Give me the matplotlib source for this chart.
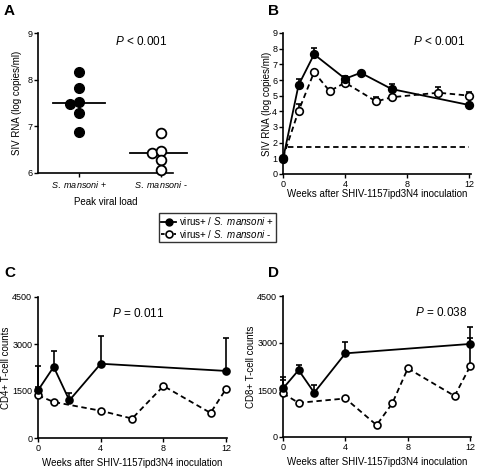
import matplotlib
matplotlib.use("Agg")
import matplotlib.pyplot as plt
from matplotlib.lines import Line2D
import numpy as np

plt.rcParams['font.family'] = ['Liberation Sans', 'DejaVu Sans']
plt.rcParams['mathtext.fontset'] = 'custom'
plt.rcParams['mathtext.rm'] = 'Liberation Sans'
plt.rcParams['mathtext.it'] = 'Liberation Sans:italic'

# ---- Panel A data ----
a_categories = [r"$\it{S.\ mansoni}$ +", r"$\it{S.\ mansoni}$ -"]
a_pos_vals = [8.17, 7.82, 7.47, 7.52, 7.29, 6.88]
a_pos_jitter = [0, 0, -0.11, 0, 0, 0]
a_neg_vals = [6.86, 6.42, 6.48, 6.28, 6.07]
a_neg_jitter = [0, -0.11, 0, 0, 0]

# ---- Panel B data ----
b_pos_weeks = [0, 1, 2, 4, 5, 7, 12]
b_pos_vals = [0.95, 5.67, 7.64, 6.08, 6.46, 5.42, 4.40]
b_pos_err = [0, 0.40, 0.38, 0.17, 0, 0.32, 0]
b_neg_weeks = [0, 1, 2, 3, 4, 6, 7, 10, 12]
b_neg_vals = [1.05, 4.02, 6.50, 5.29, 5.83, 4.63, 4.90, 5.19, 5.00]
b_neg_err = [0, 0.43, 0, 0, 0, 0.30, 0, 0.38, 0.25]
b_threshold = 1.7

# ---- Panel C data ----
c_pos_weeks = [0, 1, 2, 4, 12]
c_pos_vals = [1520, 2270, 1200, 2370, 2140]
c_pos_err = [780, 500, 240, 900, 1060]
c_neg_weeks = [0, 1, 4, 6, 8, 11, 12]
c_neg_vals = [1360, 1150, 870, 620, 1660, 800, 1575]
c_neg_err = [270, 0, 0, 0, 0, 0, 0]

# ---- Panel D data ----
d_pos_weeks = [0, 1, 2, 4, 12]
d_pos_vals = [1550, 2135, 1415, 2670, 2970]
d_pos_err = [370, 160, 260, 350, 530]
d_neg_weeks = [0, 1, 4, 6, 7, 8, 11, 12]
d_neg_vals = [1390, 1090, 1230, 380, 1070, 2190, 1310, 2260]
d_neg_err = [420, 0, 0, 0, 0, 0, 0, 890]

W, H = 478, 471
fig = plt.figure(figsize=(W / 100, H / 100), dpi=100)


def add_ax(left, right, top, bottom):
    return fig.add_axes([left / W, 1 - bottom / H, (right - left) / W, (bottom - top) / H])


def style(ax):
    for s in ['top', 'right']:
        ax.spines[s].set_visible(False)
    for s in ['left', 'bottom']:
        ax.spines[s].set_linewidth(1.2)
    ax.tick_params(direction='out', length=3, width=1, labelsize=6.5, pad=1.2)


TLW = 1.3
MS = 5.5


def plot_series(ax, x, y, err, filled, ms=MS):
    x = np.asarray(x)
    y = np.asarray(y)
    err = np.asarray(err)
    ls = '-' if filled else (0, (3, 2))
    ax.errorbar(x, y, yerr=[np.zeros_like(err), err], fmt='none', ecolor='black',
                elinewidth=1.2, capsize=2.5, capthick=1.2, zorder=2, clip_on=False)
    ax.plot(x, y, color='black', lw=TLW, linestyle=ls, zorder=3 if filled else 2.5, clip_on=False)
    ax.plot(x, y, linestyle='none', marker='o', ms=ms,
            markerfacecolor='black' if filled else 'white',
            markeredgecolor='black', markeredgewidth=1.2, zorder=4 if filled else 3.5,
            clip_on=False)


def ylabel_at(ax, text, right_px):
    # right_px: right edge (in figure pixels) of the rotated y label
    ax.set_ylabel(text, fontsize=7)
    pos = ax.get_position()
    left_px = pos.x0 * W
    width_px = pos.width * W
    ax.yaxis.set_label_coords((right_px - left_px) / width_px, 0.5)


# ---------------- Panel A ----------------
axA = add_ax(38, 173, 33, 173)
style(axA)
axA.plot(1 + np.asarray(a_pos_jitter), a_pos_vals, 'o', ms=7, color='black', clip_on=False, zorder=3)
axA.plot(2 + np.asarray(a_neg_jitter), a_neg_vals, 'o', ms=7, markerfacecolor='white',
         markeredgecolor='black', markeredgewidth=1.3, clip_on=False, zorder=3)
axA.plot([0.68, 1.32], [np.median(a_pos_vals)] * 2, color='black', lw=1.3, clip_on=False)
axA.plot([1.63, 2.32], [np.median(a_neg_vals)] * 2, color='black', lw=1.3, clip_on=False, zorder=2)
axA.set_xlim(0.5, 2.15)
axA.set_ylim(6, 9)
axA.set_yticks([6, 7, 8, 9])
axA.set_xticks([1, 2])
axA.set_xticklabels(a_categories)
ylabel_at(axA, 'SIV RNA (log copies/ml)', 22)
axA.set_xlabel('Peak viral load', fontsize=7, labelpad=5.5)
axA.text(0.76, 0.94, r"$\it{P}$ < 0.001", transform=axA.transAxes, ha='center', va='center', fontsize=8.5)

# ---------------- Panel B ----------------
axB = add_ax(283, 471, 33, 174)
style(axB)
axB.plot([0.3, 12], [b_threshold, b_threshold], color='black', lw=1.3, linestyle=(0, (3, 2)))
plot_series(axB, b_neg_weeks, b_neg_vals, b_neg_err, False)
plot_series(axB, b_pos_weeks, b_pos_vals, b_pos_err, True)
axB.set_xlim(0, 12.1)
axB.set_ylim(0, 9)
axB.set_yticks(range(0, 10))
axB.set_xticks([0, 4, 8, 12])
ylabel_at(axB, 'SIV RNA (log copies/ml)', 272)
axB.set_xlabel('Weeks after SHIV-1157ipd3N4 inoculation', fontsize=7, labelpad=0)
axB.text(0.83, 0.94, r"$\it{P}$ < 0.001", transform=axB.transAxes, ha='center', va='center', fontsize=8.5)

# ---------------- Panel C ----------------
axC = add_ax(38, 227, 297, 438)
style(axC)
plot_series(axC, c_neg_weeks, c_neg_vals, c_neg_err, False, ms=5)
plot_series(axC, c_pos_weeks, c_pos_vals, c_pos_err, True, ms=5)
axC.set_xlim(0, 12.05)
axC.set_ylim(0, 4500)
axC.set_yticks([0, 1500, 3000, 4500])
axC.set_xticks([0, 4, 8, 12])
ylabel_at(axC, 'CD4+ T-cell counts', 11)
axC.set_xlabel('Weeks after SHIV-1157ipd3N4 inoculation', fontsize=7, labelpad=4)
axC.text(0.53, 0.88, r"$\it{P}$ = 0.011", transform=axC.transAxes, ha='center', va='center', fontsize=8.5)

# ---------------- Panel D ----------------
axD = add_ax(283, 471, 296, 437)
style(axD)
plot_series(axD, d_neg_weeks, d_neg_vals, d_neg_err, False, ms=5)
plot_series(axD, d_pos_weeks, d_pos_vals, d_pos_err, True, ms=5)
axD.set_xlim(0, 12.05)
axD.set_ylim(0, 4500)
axD.set_yticks([0, 1500, 3000, 4500])
axD.set_xticks([0, 4, 8, 12])
ylabel_at(axD, 'CD8+ T-cell counts', 256)
axD.set_xlabel('Weeks after SHIV-1157ipd3N4 inoculation', fontsize=7, labelpad=4)
axD.text(0.84, 0.88, r"$\it{P}$ = 0.038", transform=axD.transAxes, ha='center', va='center', fontsize=8.5)

# ---------------- Panel letters ----------------
for lbl, x, y in [('A', 4, 11), ('B', 268, 11), ('C', 4, 273), ('D', 268, 273)]:
    fig.text(x / W, 1 - y / H, lbl, fontsize=11, fontweight='bold', ha='left', va='center')

# ---------------- Legend ----------------
h1 = Line2D([], [], color='black', lw=1.3, marker='o', ms=5, markerfacecolor='black')
h2 = Line2D([], [], color='black', lw=1.3, linestyle=(0, (2, 1.5)), marker='o', ms=5,
            markerfacecolor='white', markeredgewidth=1.2)
leg = fig.legend([h1, h2], [r"virus+ / $\it{S.\ mansoni}$ +", r"virus+ / $\it{S.\ mansoni}$ -"],
                 loc='center', bbox_to_anchor=(217.5 / W, 1 - 227.5 / H), fontsize=7,
                 frameon=True, fancybox=False, handlelength=1.6, handletextpad=0.3,
                 borderpad=0.2, labelspacing=0.05, borderaxespad=0)
leg.get_frame().set_edgecolor('black')
leg.get_frame().set_linewidth(1.0)

fig.savefig('out.png', dpi=100)
